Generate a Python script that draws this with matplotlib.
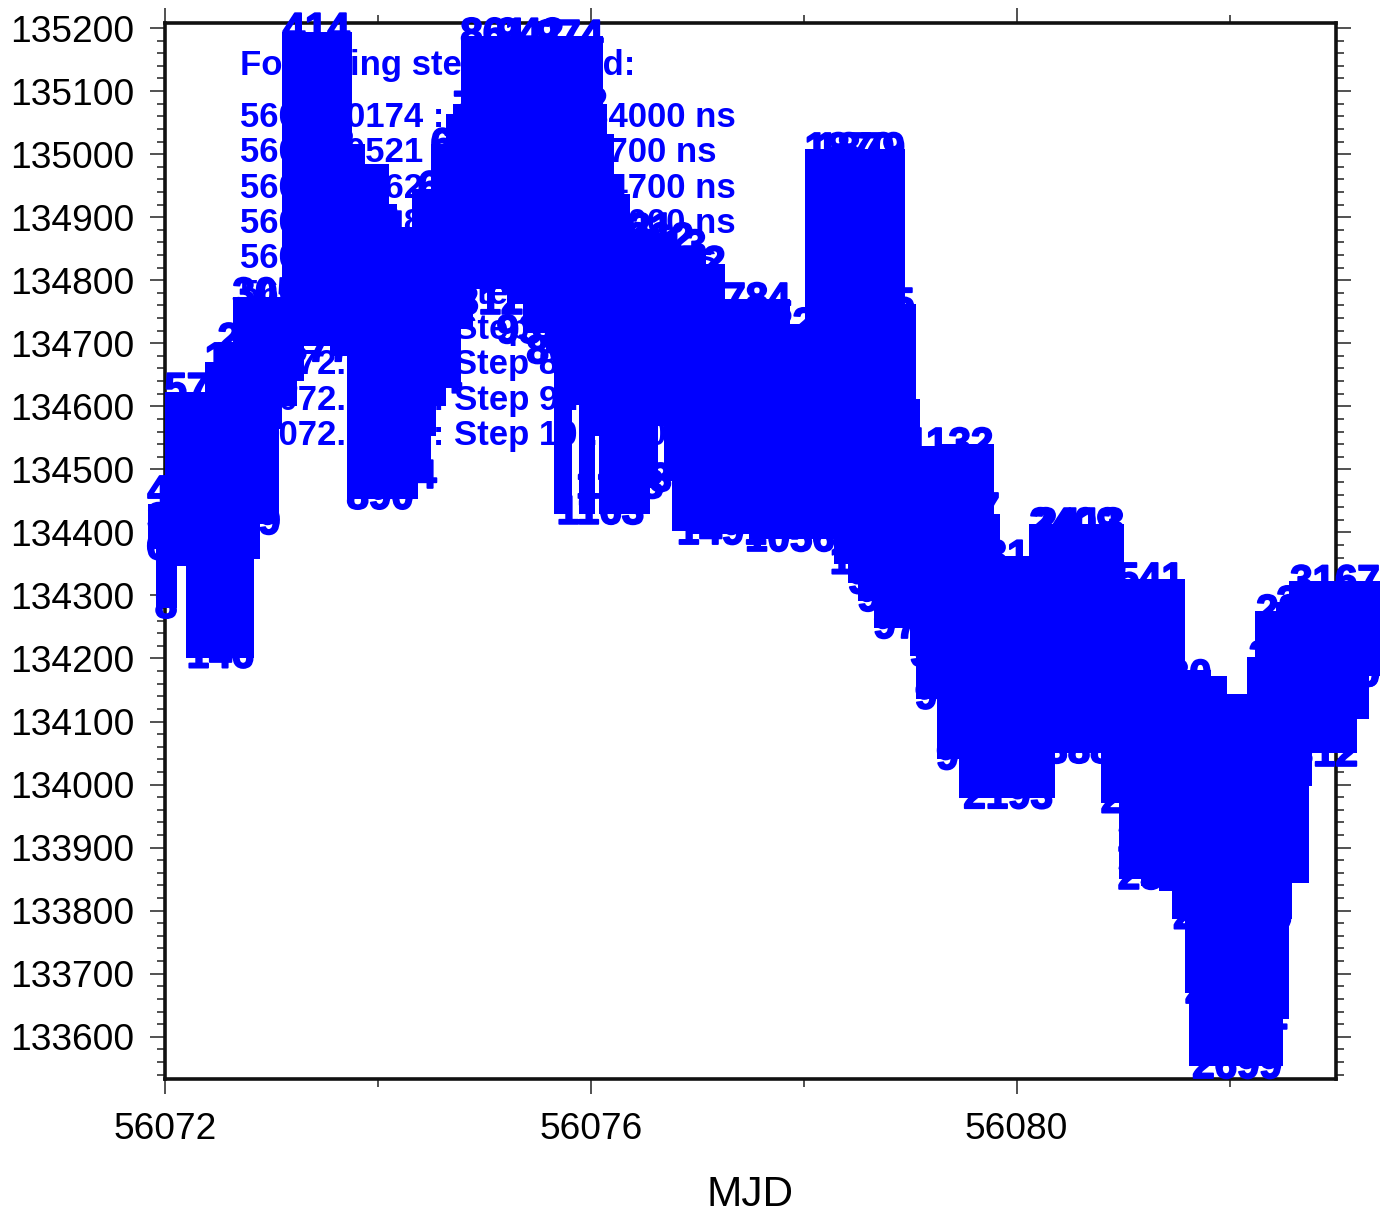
"""Pulsar residuals against MJD, points drawn as their index numbers"""
import matplotlib
matplotlib.use("Agg")
import matplotlib.patheffects as pe
import matplotlib.pyplot as plt
import numpy as np
from matplotlib.ticker import FixedLocator

plt.rcParams["font.family"] = ["Liberation Sans", "DejaVu Sans"]

BLUE = "#0000ff"

# silhouette of the overlapping numbers, read as steps: start of each stretch, top and bottom of it
edge_mjd = [56071.84, 56071.92, 56072.00, 56072.11, 56072.20, 56072.38, 56072.50, 56072.64, 56072.84, 56072.89,
            56073.07, 56073.10, 56073.24, 56073.31, 56073.55, 56073.71, 56073.76, 56073.88, 56074.10, 56074.18,
            56074.32, 56074.38, 56074.50, 56074.55, 56074.64, 56074.71, 56074.78, 56074.89, 56075.21, 56075.36,
            56075.58, 56075.65, 56075.82, 56075.89, 56076.04, 56076.08, 56076.11, 56076.15, 56076.22, 56076.29,
            56076.37, 56076.56, 56076.63, 56076.69, 56076.76, 56076.89, 56077.08, 56077.26, 56077.49, 56077.87,
            56078.01, 56078.28, 56078.42, 56078.51, 56078.66, 56078.95, 56079.00, 56079.05, 56079.09, 56079.25,
            56079.46, 56079.79, 56079.84, 56080.12, 56080.36, 56080.79, 56080.96, 56081.01, 56081.17, 56081.34,
            56081.46, 56081.58, 56081.62, 56081.83, 56081.98, 56082.16, 56082.24, 56082.44, 56082.50, 56082.56,
            56082.59, 56082.75, 56082.77, 56083.20, 56083.31, 56083.41]
edge_top = [134467, 134467, 134645, 134645, 134645, 134693, 134724, 134796, 134796, 134796,
            134796, 135216, 135216, 135216, 135216, 135216, 135038, 135007, 134943, 134907,
            134967, 134967, 135038, 135038, 135086, 135102, 135210, 135210, 135210, 135210,
            135210, 135210, 135210, 135210, 135210, 135210, 135102, 135054, 134991, 134959,
            134903, 134903, 134888, 134888, 134872, 134872, 134848, 134792, 134792, 134753,
            135030, 135030, 135030, 135030, 135030, 134785, 134785, 134634, 134559, 134563,
            134563, 134451, 134385, 134436, 134436, 134436, 134436, 134348, 134348, 134348,
            134348, 134203, 134203, 134195, 134166, 134225, 134298, 134312, 134312, 134345,
            134345, 134345, 134345, 134345, 134345, 134345]
edge_bot = [134352, 134258, 134258, 134325, 134179, 134179, 134179, 134179, 134336, 134391,
            134542, 134578, 134618, 134674, 134658, 134431, 134431, 134431, 134431, 134431,
            134431, 134464, 134531, 134578, 134615, 134615, 134700, 134764, 134740, 134694,
            134662, 134407, 134580, 134407, 134531, 134407, 134407, 134407, 134407, 134407,
            134407, 134448, 134547, 134459, 134380, 134375, 134375, 134375, 134367, 134367,
            134367, 134328, 134298, 134269, 134226, 134226, 134182, 134114, 134114, 134019,
            133957, 133957, 133957, 133957, 134028, 133949, 133828, 133828, 133817, 133809,
            133765, 133648, 133532, 133532, 133532, 133532, 133532, 133532, 133606, 133765,
            133822, 133976, 134028, 134082, 134150, 134150]

# numbers on the upper edge of the cloud
hi_mjd = [56072.15, 56072.31, 56072.69, 56072.81, 56072.95, 56073.42, 56073.46, 56073.79, 56073.97,
          56074.69, 56074.81, 56075.02, 56075.09, 56075.43, 56075.80, 56075.84, 56075.91, 56075.98,
          56076.46, 56076.65, 56076.77, 56076.95, 56077.56, 56077.79, 56078.43, 56078.53, 56078.62,
          56079.37, 56079.42, 56079.70, 56080.54, 56080.59, 56081.15, 56081.16, 56081.41, 56081.56,
          56082.60, 56082.67, 56082.86, 56082.99]
hi_val = [134463, 134626, 134674, 134705, 134777, 135197, 135014, 134940, 134883,
          134946, 135014, 135073, 135189, 135189, 135186, 135078, 134967, 134935,
          134880, 134864, 134853, 134827, 134769, 134729, 135007, 135007, 134761,
          134539, 134436, 134361, 134412, 134412, 134325, 134179, 134171, 134142,
          134201, 134274, 134288, 134321]
hi_lab = ["481", "572", "123", "210", "305", "414", "462", "520", "571",
          "634", "661", "702", "861", "942", "974", "952", "983", "904",
          "921", "862", "813", "852", "784", "622", "1870", "1879", "1905",
          "1132", "1987", "2031", "2409", "2413", "2541", "2603", "2630", "2652",
          "2864", "2893", "2951", "3167"]

# numbers on the lower edge of the cloud
lo_mjd = [56072.01, 56072.14, 56072.52, 56072.98, 56072.76, 56072.93, 56073.44, 56074.02, 56074.13,
          56074.47, 56074.58, 56075.05, 56075.43, 56075.71, 56076.09, 56076.27, 56076.55, 56077.23,
          56077.87, 56078.35, 56078.73, 56078.82, 56078.97, 56079.31, 56079.36, 56079.56, 56079.92,
          56080.48, 56081.21, 56081.37, 56081.89, 56082.00, 56082.07, 56082.13, 56082.16, 56082.33, 56082.47,
          56082.89, 56083.10]
lo_val = [134282, 134375, 134203, 134415, 134523, 134634, 134689, 134455, 134488,
          134639, 134792, 134764, 134718, 134686, 134431, 134472, 134483, 134399,
          134388, 134352, 134321, 134293, 134250, 134206, 134138, 134042, 133980,
          134052, 133973, 133852, 133789, 133671, 133552, 133630, 133789, 133920, 134052,
          134047, 134174]
lo_lab = ["8", "612", "146", "9", "259", "318", "377", "890", "1004",
          "744", "781", "812", "935", "801", "1163", "1178", "1230", "1491",
          "1056", "1", "933", "948", "976", "912", "944", "907", "2193",
          "2388", "2476", "2521", "2675", "2688", "2699", "2702", "2745", "2812", "850",
          "312", "120"]

# numbers further inside the cloud, next to its steep sides
mid_mjd = [56073.42] * 9 + [56075.09] * 2 + [56075.80] * 2 + [56078.43] * 5 + [56078.53] * 5 \
    + [56072.31] * 2 + [56072.15] + [56082.99] * 3 + [56081.15] * 2 + [56082.07] * 4 + [56081.37, 56080.54]
mid_val = [135157, 135118, 135078, 135038, 134991, 134943, 134896, 134848, 134800,
           135149, 135102, 135149, 135102,
           134959, 134911, 134864, 134816, 134769,
           134959, 134911, 134864, 134816, 134769,
           134578, 134531, 134420,
           134274, 134222, 134174,
           134277, 134230,
           133738, 133682, 133627, 133587,
           133912, 134356]
mid_lab = ["418", "421", "433", "440", "447", "452", "458", "466", "473",
           "871", "880", "963", "930",
           "1801", "1812", "1824", "1836", "1848",
           "1851", "1858", "1862", "1866", "1868",
           "661", "722", "351",
           "3140", "3151", "3160",
           "2550", "2561",
           "2690", "2693", "2695", "2697",
           "2500", "2420"]

# step list printed inside the panel, mostly hidden by the numbers
step_title = "Following steps loaded:"
step_lines = ["56072.0174 : Step 1 : 34000 ns",
              "56073.0521 : Step 2 : 5700 ns",
              "56074.0362 : Step 3 : 14700 ns",
              "56075.0418 : Step 4 : 15000 ns",
              "56076.0233 : Step 5 : 8200 ns",
              "56077.0650 : Step 6 : 6100 ns",
              "56072.0391 : Step 7 : 3900 ns",
              "56072.0447 : Step 8 : 2400 ns",
              "56072.0512 : Step 9 : 1800 ns",
              "56072.0586 : Step 10 : 900 ns"]

x_major = [56072, 56076, 56080]
x_minor = [56074, 56078, 56082]
y_major = np.arange(133600, 135201, 100)
y_minor = np.arange(133540, 135201, 20)

fig = plt.figure(figsize=(13.8, 12.1), dpi=100)
ax = fig.add_axes([165 / 1380, 131 / 1210, 1171 / 1380, 1056 / 1210])
ax.set_xlim(56072, 56083)
ax.set_ylim(133533, 135208)

# legend text goes below the numbers
ax.text(56072.70, 135140, step_title, color=BLUE, fontsize=25, fontweight="bold", va="center", zorder=2)
for i, line in enumerate(step_lines):
    ax.text(56072.70, 135058 - i * 56, line, color=BLUE, fontsize=25, fontweight="bold", va="center", zorder=2)

# solid body of the overlapping numbers, pulled in so digits show along the edge
ax.fill_between(edge_mjd, np.array(edge_bot) + 22, np.array(edge_top) - 22, step="post",
                color=BLUE, lw=0, zorder=3, clip_on=False)

stroke = [pe.withStroke(linewidth=1.3, foreground=BLUE)]
for xs, ys, labs in [(hi_mjd, hi_val, hi_lab), (lo_mjd, lo_val, lo_lab), (mid_mjd, mid_val, mid_lab)]:
    for x, y, lab in zip(xs, ys, labs):
        ax.text(x, y, lab, color=BLUE, fontsize=29, fontweight="bold",
                ha="center", va="center", zorder=4, path_effects=stroke)

ax.xaxis.set_major_locator(FixedLocator(x_major))
ax.xaxis.set_minor_locator(FixedLocator(x_minor))
ax.yaxis.set_major_locator(FixedLocator(y_major))
ax.yaxis.set_minor_locator(FixedLocator(y_minor))
ax.ticklabel_format(useOffset=False, style="plain")
ax.tick_params(which="major", direction="out", length=10.8, width=1.1, top=True, right=True,
               labelsize=26.7, color="#222222")
ax.tick_params(which="minor", direction="out", length=5.6, width=1.1, top=True, right=True, color="#222222")
ax.tick_params(axis="x", which="major", pad=13)
ax.tick_params(axis="y", which="major", pad=11)

for side in ax.spines.values():
    side.set_linewidth(2.6)
    side.set_color("#111111")

ax.set_xlabel("MJD", fontsize=30.5, labelpad=20)

fig.savefig("out.png", dpi=100)
